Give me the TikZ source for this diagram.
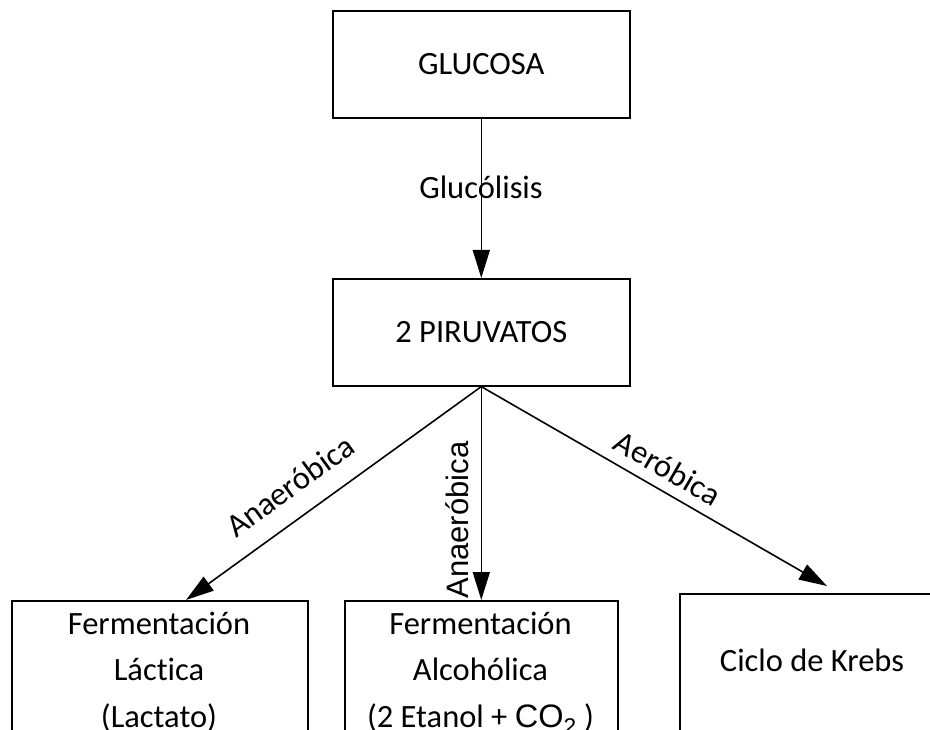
\documentclass[tikz,border=0pt]{standalone}
\usepackage{fontspec}
\setmainfont{Carlito}[Ligatures=NoCommon]
\newfontfamily\arialf{Liberation Sans}
\usetikzlibrary{arrows.meta}
\begin{document}
\begin{tikzpicture}[x=1pt,y=-1pt,line width=1.6pt,
  box/.style={draw,rectangle,inner sep=0pt,anchor=north west},
  txt/.style={font=\fontsize{32.5}{46.5}\selectfont,align=center,inner sep=0pt},
  arr/.style={-{Triangle[length=28pt,width=17pt]}}]
\useasboundingbox (0,0) rectangle (930,730);
\clip (0,0) rectangle (930,730);
% boxes
\node[box,txt,minimum width=297pt,minimum height=107pt] (glu) at (332,10) {GLUCOSA};
\node[box,txt,minimum width=297pt,minimum height=107pt] (piru) at (332,278) {2 PIRUVATOS};
\node[box,minimum width=296pt,minimum height=200pt] (lac) at (11,600) {};
\node[box,minimum width=273pt,minimum height=200pt] (alc) at (344,600) {};
\node[box,minimum width=300pt,minimum height=200pt] (kre) at (679,593) {};
% box texts
\node[txt,anchor=north] (lact) at (159,611) {Fermentación\\Láctica\\(Lactato)};
\node[txt,anchor=north] (alct) at (480.5,611) {Fermentación\\Alcohólica\\(2 Etanol + {\arialf CO\textsubscript{2}} )};
\node[txt] (kret) at (812,660) {Ciclo de Krebs};
% arrow ends
\coordinate (lactip) at (186,600);
\coordinate (kretip) at (827,586);
% connectors
\draw[arr] (glu.south) -- (piru.north);
\draw[arr] (piru.south) -- (lactip);
\draw[arr] (piru.south) -- (alc.north);
\draw[arr] (piru.south) -- (kretip);
% labels
\node[txt,anchor=base] (lglu) at (481,199) {Glucólisis};
\node[txt,rotate=36] (lan1) at (290,486) {Anaeróbica};
\node[font=\arialf\fontsize{31}{36}\selectfont,inner sep=0pt,rotate=90] (lan2) at (457,520) {Anaeróbica};
\node[txt,rotate=-30] (laer) at (668,468) {Aeróbica};
\end{tikzpicture}
\end{document}
